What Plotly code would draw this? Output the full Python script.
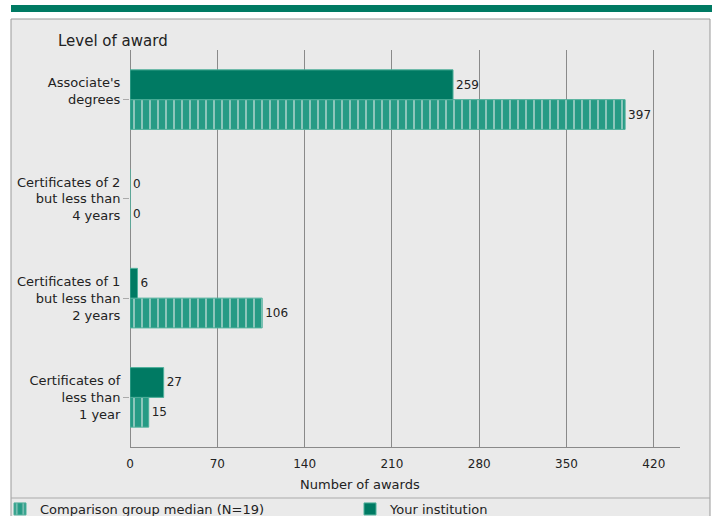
import plotly.graph_objects as go

# ---- data ----
categories = [
    "Associate's<br>degrees<br> ",
    "Certificates of 2<br>but less than<br>4 years",
    "Certificates of 1<br>but less than<br>2 years",
    "Certificates of<br>less than<br>1 year",
]
your_institution = [259, 0, 6, 27]
comparison_median = [397, 0, 106, 15]
x_ticks = [0, 70, 140, 210, 280, 350, 420]

DARK = "#007A63"
LIGHT = "#269B85"
FONT = "DejaVu Sans, Verdana, sans-serif"

W, H = 712, 516
L, R, T, B = 130, 32, 50, 69
PW, PH = W - L - R, H - T - B


def px(x):
    return (x - L) / PW


def py(y):
    return (H - B - y) / PH


fig = go.Figure()
fig.add_trace(go.Bar(
    y=categories, x=comparison_median, orientation="h",
    name="Comparison group median (N=19)", legend="legend",
    marker=dict(color=LIGHT,
                line=dict(color="#4FB09B", width=1),
                pattern=dict(shape="|", fgcolor="#F2F2F2", bgcolor=LIGHT,
                             size=8, solidity=0.25)),
    text=[str(v) for v in comparison_median], textposition="outside",
    textfont=dict(family=FONT, size=12, color="#222"),
    cliponaxis=False,
))
fig.add_trace(go.Bar(
    y=categories, x=your_institution, orientation="h",
    name="Your institution", legend="legend2",
    marker=dict(color=DARK, line=dict(color="#4FB09B", width=1)),
    text=[str(v) for v in your_institution], textposition="outside",
    textfont=dict(family=FONT, size=12, color="#222"),
    cliponaxis=False,
))

shapes = [
    # panel
    dict(type="rect", xref="paper", yref="paper", x0=px(11), x1=px(710),
         y0=py(530), y1=py(19), fillcolor="#EAEAEA",
         line=dict(color="#999999", width=1), layer="below"),
    # top band
    dict(type="rect", xref="paper", yref="paper", x0=px(11), x1=px(712),
         y0=py(12), y1=py(5), fillcolor=DARK, line=dict(width=0),
         layer="below"),
    # legend separator
    dict(type="line", xref="paper", yref="paper", x0=px(11), x1=px(710),
         y0=py(498), y1=py(498), line=dict(color="#AAAAAA", width=1),
         layer="below"),
]

legend_common = dict(orientation="h", y=py(494), xanchor="left",
                     yanchor="top",
                     font=dict(family=FONT, size=13, color="#222"),
                     bgcolor="rgba(0,0,0,0)")

fig.update_layout(
    width=W, height=H,
    margin=dict(l=L, r=R, t=T, b=B, autoexpand=False),
    paper_bgcolor="white", plot_bgcolor="rgba(0,0,0,0)",
    barmode="group", bargap=0.4, bargroupgap=0,
    font=dict(family=FONT, size=13, color="#222"),
    shapes=shapes,
    showlegend=True,
    legend=dict(x=px(0), **legend_common),
    legend2=dict(x=px(350), **legend_common),
    annotations=[
        dict(text="Level of award", xref="paper", yref="paper",
             x=px(56), y=py(41), xanchor="left", yanchor="middle",
             showarrow=False, font=dict(family=FONT, size=15, color="#222")),
        dict(text="Number of awards", xref="paper", yref="paper",
             x=px(360), y=py(485), xanchor="center", yanchor="middle",
             showarrow=False, font=dict(family=FONT, size=13, color="#222")),
    ],
)

fig.update_xaxes(
    range=[0, 441], tickvals=x_ticks, ticktext=[str(v) for v in x_ticks],
    showgrid=True, gridcolor="#8A8A8A", gridwidth=1,
    zeroline=True, zerolinecolor="#8A8A8A", zerolinewidth=1,
    showline=True, linecolor="#8A8A8A", linewidth=1,
    ticks="outside", ticklen=6, tickcolor="rgba(0,0,0,0)",
    tickfont=dict(family=FONT, size=12, color="#222"),
    fixedrange=True, automargin=False,
)
fig.update_yaxes(
    categoryorder="array", categoryarray=categories[::-1],
    range=[-0.5, 3.5], showgrid=False, zeroline=False, showline=False,
    ticks="outside", ticklen=6, tickcolor="#AAAAAA",
    tickfont=dict(family=FONT, size=13, color="#222"),
    fixedrange=True, automargin=False,
)

fig.write_html("out.html", config={"displayModeBar": False},
               post_script="document.body.style.margin='0px';"
                           "document.body.style.padding='0px';")
